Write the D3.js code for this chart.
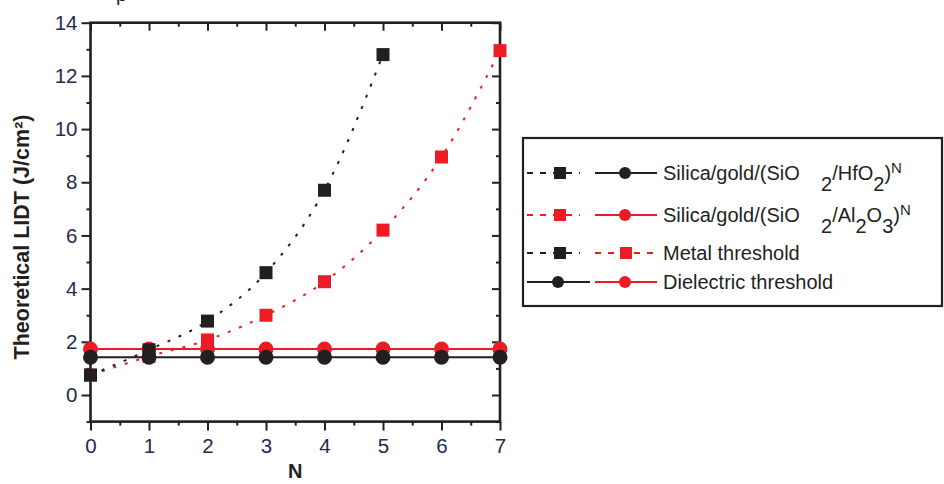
<!DOCTYPE html>
<html><head><meta charset="utf-8">
<script src="https://cdn.jsdelivr.net/npm/d3@7"></script>
<style>
body{margin:0;background:#fff;}
svg{display:block;font-family:"Liberation Sans",Arial,sans-serif;}
</style></head>
<body><svg id="c" width="944" height="484"></svg>
<script>
// ---- data ----
const nValues = [0,1,2,3,4,5,6,7];
const metalHfO2 = [0.75,1.7,2.78,4.6,7.7,12.8];          // black squares, N=0..5
const metalAl2O3 = [0.75,1.45,2.07,3.0,4.26,6.2,8.95,12.95]; // red squares, N=0..7
const dielHfO2 = [1.42,1.42,1.42,1.42,1.42,1.42,1.42,1.42];  // black circles
const dielAl2O3 = [1.73,1.73,1.73,1.73,1.73,1.73,1.73,1.73]; // red circles
const yMajorTicks = [0,2,4,6,8,10,12,14];
const yMinorTicks = [-1,1,3,5,7,9,11,13];
const xMajorTicks = [0,1,2,3,4,5,6,7];
const xMinorTicks = [0.5,1.5,2.5,3.5,4.5,5.5,6.5];

const BLACK = "#231f20", RED = "#ed1c24", LABEL = "#232c4c";
const svg = d3.select("#c");
const x = d3.scaleLinear().domain([0,7]).range([90.5,500]);
const y = d3.scaleLinear().domain([-1,14]).range([421.6,22.7]);

// fragment of caption text cut at top
svg.append("text").attr("x",116).attr("y",0.5).attr("font-size",20).attr("fill",BLACK).text("p");

function styleAxis(g){
  g.select(".domain").remove();
  g.selectAll(".tick line").attr("stroke",BLACK).attr("stroke-width",2);
}
const fmt = d3.format("d");
const axes = [
  [d3.axisLeft(y).tickValues(yMajorTicks).tickSize(9).tickPadding(4).tickFormat(fmt), [x(0),0], true],
  [d3.axisLeft(y).tickValues(yMinorTicks).tickSize(4).tickFormat(""), [x(0),0], false],
  [d3.axisRight(y).tickValues(yMajorTicks).tickSize(-8).tickFormat(""), [x(7),0], false],
  [d3.axisRight(y).tickValues(yMinorTicks).tickSize(-4).tickFormat(""), [x(7),0], false],
  [d3.axisBottom(x).tickValues(xMajorTicks).tickSize(9).tickPadding(8).tickFormat(fmt), [0,y(-1)], true],
  [d3.axisBottom(x).tickValues(xMinorTicks).tickSize(4).tickFormat(""), [0,y(-1)], false],
  [d3.axisTop(x).tickValues(xMajorTicks).tickSize(-8).tickFormat(""), [0,y(14)], false],
  [d3.axisTop(x).tickValues(xMinorTicks).tickSize(-4).tickFormat(""), [0,y(14)], false]
];
axes.forEach(([ax,t,lab])=>{
  const g = svg.append("g").attr("transform",`translate(${t[0]},${t[1]})`).call(ax).call(styleAxis);
  if(lab) g.selectAll(".tick text").attr("font-size",20.5).attr("fill",LABEL).attr("font-family","Liberation Sans, Arial, sans-serif");
});
// frame
svg.append("rect").attr("x",x(0)).attr("y",y(14)).attr("width",x(7)-x(0)).attr("height",y(-1)-y(14))
  .attr("fill","none").attr("stroke",BLACK).attr("stroke-width",2.6);

// axis titles
svg.append("text").attr("transform","translate(29,237) rotate(-90)").attr("text-anchor","middle")
  .attr("font-size",21.5).attr("font-weight","bold").attr("fill",BLACK)
  .text("Theoretical LIDT (J/cm²)");
svg.append("text").attr("x",x(3.5)).attr("y",478).attr("text-anchor","middle")
  .attr("font-size",20).attr("font-weight","bold").attr("fill",BLACK).text("N");

// fit curves (dotted)
const line = d3.line().x((d,i)=>x(nValues[i])).y(d=>y(d)).curve(d3.curveMonotoneX);
svg.append("path").attr("d",line(metalAl2O3)).attr("fill","none").attr("stroke",RED).attr("stroke-width",2).attr("stroke-dasharray","3,9");
svg.append("path").attr("d",line(metalHfO2)).attr("fill","none").attr("stroke",BLACK).attr("stroke-width",2).attr("stroke-dasharray","3,9");

const SQ = 13, R = 7.5;
function squares(data,color){
  svg.append("g").selectAll("rect").data(data).join("rect")
    .attr("x",(d,i)=>x(nValues[i])-SQ/2).attr("y",d=>y(d)-SQ/2).attr("width",SQ).attr("height",SQ).attr("fill",color);
}
function circles(data,color){
  const lin = d3.line().x((d,i)=>x(nValues[i])).y(d=>y(d));
  svg.append("path").attr("d",lin(data)).attr("fill","none").attr("stroke",color).attr("stroke-width",2.2);
  svg.append("g").selectAll("circle").data(data).join("circle")
    .attr("cx",(d,i)=>x(nValues[i])).attr("cy",d=>y(d)).attr("r",R).attr("fill",color);
}
squares(metalAl2O3,RED);
circles(dielAl2O3,RED);
squares(metalHfO2,BLACK);
circles(dielHfO2,BLACK);

// legend
const lg = svg.append("g");
lg.append("rect").attr("x",523).attr("y",138).attr("width",419).attr("height",168)
  .attr("fill","#fff").attr("stroke",BLACK).attr("stroke-width",2.2);
function dashSym(x0,x1,cy,color,sx){
  lg.append("line").attr("x1",x0).attr("x2",x1).attr("y1",cy).attr("y2",cy).attr("stroke",color).attr("stroke-width",2).attr("stroke-dasharray","6,7");
  lg.append("rect").attr("x",sx-6).attr("y",cy-6).attr("width",12).attr("height",12).attr("fill",color);
}
function solidSym(x0,x1,cy,color,cx){
  lg.append("line").attr("x1",x0).attr("x2",x1).attr("y1",cy).attr("y2",cy).attr("stroke",color).attr("stroke-width",2.2);
  lg.append("circle").attr("cx",cx).attr("cy",cy).attr("r",6).attr("fill",color);
}
const rows = [173,215,253,282];
dashSym(527,580,rows[0],BLACK,560); solidSym(595,657,rows[0],BLACK,625);
dashSym(527,580,rows[1],RED,560);   solidSym(595,657,rows[1],RED,625);
dashSym(527,580,rows[2],BLACK,560); dashSym(595,657,rows[2],RED,626);
solidSym(527,590,rows[3],BLACK,558); solidSym(595,657,rows[3],RED,625);

function legText(cy){ return lg.append("text").attr("x",663).attr("y",cy+7).attr("font-size",20).attr("fill",BLACK); }
const SUB = 11, SUP = 7;
let t = legText(rows[0]);
t.append("tspan").text("Silica/gold/(SiO");
t.append("tspan").attr("x",821).attr("dy",SUB).text("2");
t.append("tspan").attr("dy",-SUB).text("/HfO");
t.append("tspan").attr("dy",SUB).text("2");
t.append("tspan").attr("dy",-SUB).text(")");
t.append("tspan").attr("dy",-SUP).attr("font-size",15).text("N");
t = legText(rows[1]);
t.append("tspan").text("Silica/gold/(SiO");
t.append("tspan").attr("x",821).attr("dy",SUB).text("2");
t.append("tspan").attr("dy",-SUB).text("/Al");
t.append("tspan").attr("dy",SUB).text("2");
t.append("tspan").attr("dy",-SUB).text("O");
t.append("tspan").attr("dy",SUB).text("3");
t.append("tspan").attr("dy",-SUB).text(")");
t.append("tspan").attr("dy",-SUP).attr("font-size",15).text("N");
legText(rows[2]).text("Metal threshold");
legText(rows[3]).text("Dielectric threshold");
</script></body></html>
